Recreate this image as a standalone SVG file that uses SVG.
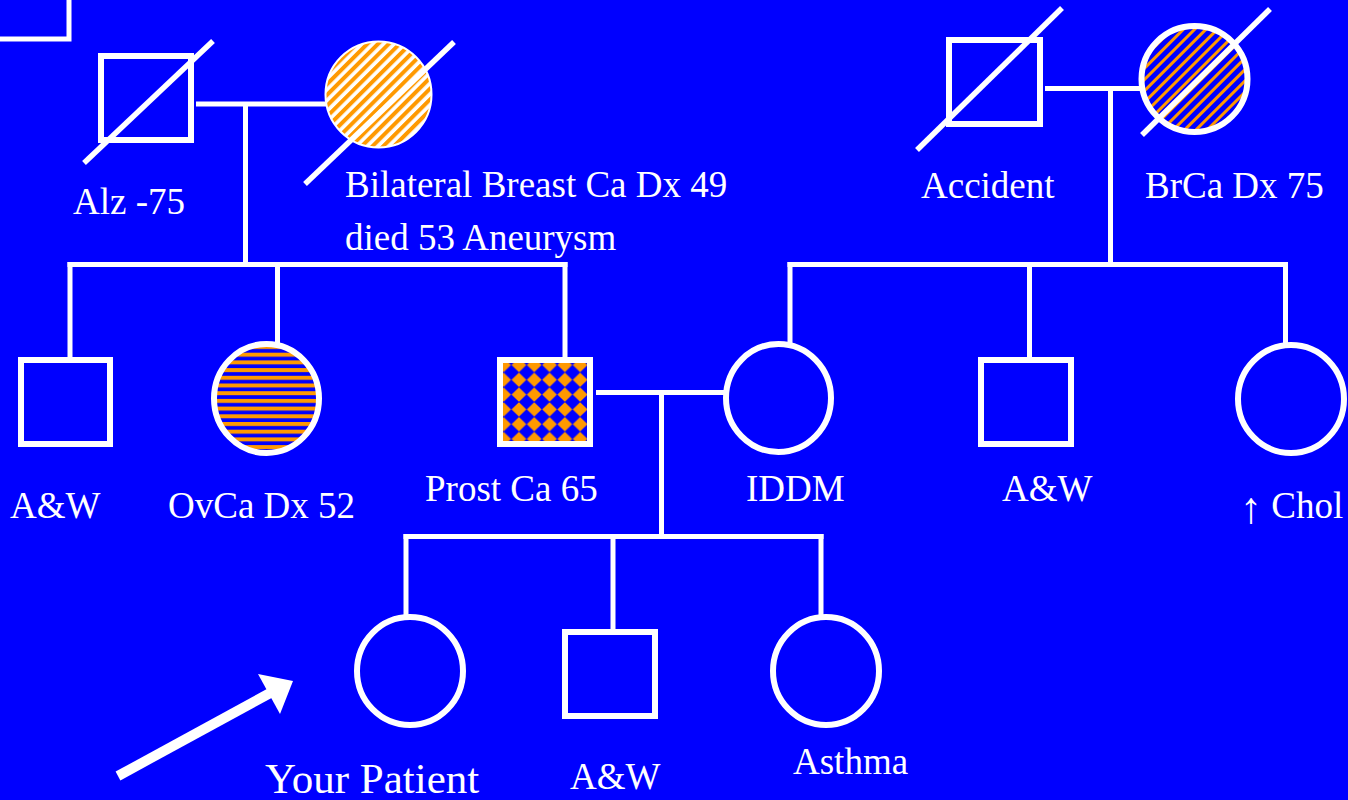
<svg xmlns="http://www.w3.org/2000/svg" width="1348" height="800" viewBox="0 0 1348 800">
  <style>
    .ln { stroke: #ffffff; stroke-width: 5; fill: none; stroke-linecap: butt; }
    .sym { stroke: #ffffff; stroke-width: 6; fill: #0000ff; }
    .slash { stroke: #ffffff; stroke-width: 5.5; stroke-linecap: butt; }
    .lbl { font-size: 37px; fill: #ffffff; }
  </style>
  <defs>
    <!-- orange on white diagonal stripes -->
    <pattern id="stripeWhite" width="7.6" height="7.6" patternUnits="userSpaceOnUse" patternTransform="rotate(-45)">
      <rect width="7.6" height="7.6" fill="#ffffff"/>
      <rect y="0" width="7.6" height="4" fill="#ff9900"/>
    </pattern>
    <!-- orange on blue diagonal stripes -->
    <pattern id="stripeBlue" width="8" height="8" patternUnits="userSpaceOnUse" patternTransform="rotate(-45)">
      <rect width="8" height="8" fill="#0000ff"/>
      <rect y="0" width="8" height="3" fill="#ff9900"/>
    </pattern>
    <!-- horizontal orange/blue bands -->
    <pattern id="bands" width="10" height="7.7" patternUnits="userSpaceOnUse" y="345">
      <rect width="10" height="7.7" fill="#0000ff"/>
      <rect y="0" width="10" height="4" fill="#ff9900"/>
    </pattern>
    <!-- orange diamonds on blue -->
    <pattern id="diamonds" width="15.3" height="14.8" patternUnits="userSpaceOnUse" x="511.3" y="357.6">
      <rect width="15.3" height="14.8" fill="#0000ff"/>
      <polygon points="7.65,0.2 15,7.4 7.65,14.6 0.3,7.4" fill="#ff9900"/>
    </pattern>
  </defs>

  <rect width="1348" height="800" fill="#0000ff"/>

  <!-- connectors -->
  <g id="connectors">
    <!-- corner of a frame at top left -->
    <polyline class="ln" points="0,39 69,39 69,0"/>
    <!-- paternal grandparents -->
    <line class="ln" x1="196" y1="104" x2="326" y2="104"/>
    <line class="ln" x1="245.5" y1="104" x2="245.5" y2="264.5"/>
    <line class="ln" x1="67.5" y1="264.5" x2="567.5" y2="264.5"/>
    <line class="ln" x1="70" y1="262" x2="70" y2="358"/>
    <line class="ln" x1="277.5" y1="264.5" x2="277.5" y2="343"/>
    <line class="ln" x1="565" y1="262" x2="565" y2="358"/>
    <!-- maternal grandparents -->
    <line class="ln" x1="1045" y1="88.5" x2="1140" y2="88.5"/>
    <line class="ln" x1="1110.5" y1="88.5" x2="1110.5" y2="264.5"/>
    <line class="ln" x1="787.5" y1="264.5" x2="1288" y2="264.5"/>
    <line class="ln" x1="790" y1="262" x2="790" y2="343"/>
    <line class="ln" x1="1029.5" y1="264.5" x2="1029.5" y2="358"/>
    <line class="ln" x1="1285.5" y1="262" x2="1285.5" y2="343"/>
    <!-- parents -->
    <line class="ln" x1="596" y1="392.5" x2="724" y2="392.5"/>
    <line class="ln" x1="661.5" y1="392.5" x2="661.5" y2="536.5"/>
    <line class="ln" x1="403.5" y1="536.5" x2="823.5" y2="536.5"/>
    <line class="ln" x1="406" y1="534" x2="406" y2="615"/>
    <line class="ln" x1="613" y1="536.5" x2="613" y2="630"/>
    <line class="ln" x1="821" y1="534" x2="821" y2="615"/>
  </g>

  <g font-family="'Liberation Serif', 'Times New Roman', serif">
  <!-- generation I -->
  <g id="pgf">
    <rect class="sym" x="101" y="56" width="90" height="84"/>
    <line class="slash" x1="84" y1="163" x2="213" y2="41"/>
    <text class="lbl" x="73" y="214">Alz -75</text>
  </g>
  <g id="pgm">
    <circle cx="378.5" cy="94.5" r="53" fill="url(#stripeWhite)" stroke="#ffffff" stroke-width="2"/>
    <line class="slash" x1="305" y1="184" x2="454" y2="42"/>
    <text class="lbl" x="345" y="197">Bilateral Breast Ca Dx 49</text>
    <text class="lbl" x="345" y="250">died 53 Aneurysm</text>
  </g>
  <g id="mgf">
    <rect class="sym" x="949" y="40" width="91" height="84"/>
    <line class="slash" x1="917" y1="150" x2="1062" y2="8"/>
    <text class="lbl" x="921" y="198">Accident</text>
  </g>
  <g id="mgm">
    <circle cx="1194.5" cy="79" r="53" fill="url(#stripeBlue)" stroke="#ffffff" stroke-width="6"/>
    <line class="slash" x1="1142" y1="135" x2="1270" y2="9"/>
    <text class="lbl" x="1145" y="198">BrCa Dx 75</text>
  </g>

  <!-- generation II -->
  <g id="uncle1">
    <rect class="sym" x="21" y="360" width="89" height="84"/>
    <text class="lbl" x="10" y="518">A&amp;W</text>
  </g>
  <g id="aunt1">
    <ellipse cx="266.5" cy="398.5" rx="52.5" ry="54.5" fill="url(#bands)" stroke="#ffffff" stroke-width="6"/>
    <text class="lbl" x="168" y="518">OvCa Dx 52</text>
  </g>
  <g id="father">
    <rect x="500" y="360" width="90" height="84" fill="url(#diamonds)" stroke="#ffffff" stroke-width="6"/>
    <text class="lbl" x="425" y="501">Prost Ca 65</text>
  </g>
  <g id="mother">
    <ellipse class="sym" cx="778.5" cy="398" rx="52.5" ry="54"/>
    <text class="lbl" x="746" y="501">IDDM</text>
  </g>
  <g id="uncle2">
    <rect class="sym" x="981" y="360" width="90" height="84"/>
    <text class="lbl" x="1002" y="501">A&amp;W</text>
  </g>
  <g id="aunt2">
    <ellipse class="sym" cx="1291" cy="399" rx="53" ry="54"/>
    <text class="lbl" x="1240" y="518"><tspan font-size="44" dy="5">↑</tspan><tspan dy="-5"> Chol</tspan></text>
  </g>

  <!-- generation III -->
  <g id="patient">
    <ellipse class="sym" cx="410" cy="671" rx="53" ry="54"/>
    <text class="lbl" x="265" y="793" style="font-size:43px">Your Patient</text>
  </g>
  <g id="brother">
    <rect class="sym" x="565" y="632" width="90" height="84"/>
    <text class="lbl" x="570" y="789">A&amp;W</text>
  </g>
  <g id="sister">
    <ellipse class="sym" cx="826" cy="671" rx="53" ry="54"/>
    <text class="lbl" x="793" y="774">Asthma</text>
  </g>
  </g>

  <!-- proband pointer -->
  <g id="proband-arrow">
    <line x1="118" y1="776" x2="272" y2="692" stroke="#ffffff" stroke-width="10"/>
    <polygon points="293,681 258,674 280,714" fill="#ffffff"/>
  </g>
</svg>
